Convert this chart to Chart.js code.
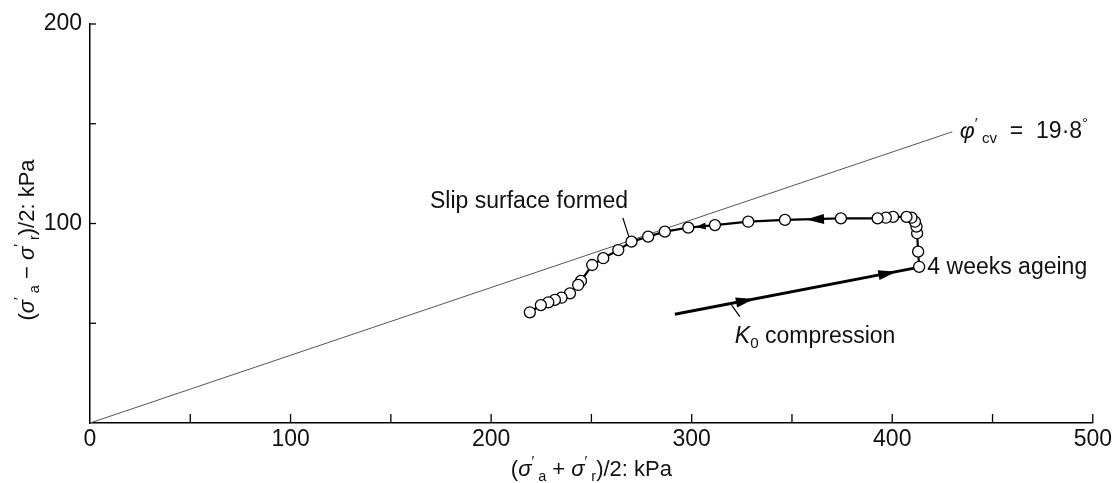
<!DOCTYPE html>
<html lang="en">
<head>
  <meta charset="UTF-8" />
  <title>Stress path - ring shear ageing</title>
  <script src="https://cdn.jsdelivr.net/npm/chart.js"></script>
  <style>
    body { margin: 0; background: #fff; }
    #wrap { width: 1115px; height: 483px; }
  </style>
</head>
<body>
<div id="wrap"><canvas id="pathChart"></canvas></div>
<script>
  // p' = (σ'a + σ'r)/2 and q' = (σ'a − σ'r)/2, both in kPa
  const shearP = [413.4, 412.9, 412.4, 412.1, 411.3, 409.6, 407.1, 400.4, 396.8, 392.7,
                  374.4, 346.5, 328.2, 311.6, 298.3, 286.6, 278.3, 270.0, 263.4, 255.9,
                  250.4, 244.8, 243.4, 239.3, 235.1, 231.8, 228.5, 224.8, 219.3];
  const shearQ = [78.3, 85.9, 95.1, 98.4, 100.9, 102.9, 103.3, 103.3, 102.9, 102.6,
                  102.6, 101.8, 100.9, 99.2, 97.9, 95.9, 93.4, 90.9, 86.7, 82.6,
                  79.2, 71.2, 69.2, 65.0, 62.8, 61.7, 60.5, 59.1, 55.5];

  // K0 compression then 4 weeks ageing
  const koP = [291.6, 413.0];
  const koQ = [54.5, 78.0];

  // critical state line, φ'cv = 19.8°
  const phiP = [0, 430];
  const phiQ = [0, 146];

  // leader lines for the labels
  const slipLeaderP = [265.7, 269.2];
  const slipLeaderQ = [102.8, 91.7];
  const koLeaderP = [319.9, 324.0];
  const koLeaderQ = [59.1, 53.3];

  // arrow heads: tip point and a point behind it
  const arrowTipP = [331.0, 402.0, 357.0, 302.0];
  const arrowTipQ = [62.1, 75.8, 102.0, 98.3];
  const arrowTailP = [291.6, 291.6, 375.0, 312.0];
  const arrowTailQ = [54.5, 54.5, 102.6, 99.2];

  const xTicks = [0, 100, 200, 300, 400, 500];
  const yTicks = [100, 200];

  const FONT = '"Liberation Sans", Arial, Helvetica, sans-serif';

  const toXY = (ps, qs) => ps.map((p, i) => ({ x: p, y: qs[i] }));

  function drawRich(ctx, parts, x, y, size, measureOnly) {
    let cx = x;
    for (const [t, k] of parts) {
      const small = k === 'sub' || k === 'sup';
      const s = small ? size * 0.66 : size;
      ctx.font = (k === 'it' ? 'italic ' : '') + s + 'px ' + FONT;
      const dy = k === 'sub' ? size * 0.22 : k === 'sup' ? -size * 0.45 : 0;
      if (!measureOnly) ctx.fillText(t, cx, y + dy);
      cx += ctx.measureText(t).width;
    }
    return cx - x;
  }

  const xTitle = [['(', ''], ['σ', 'it'], ['′', 'sup'], [' a', 'sub'], [' + ', ''], ['σ', 'it'],
                  ['′', 'sup'], [' r', 'sub'], [')/2: kPa', '']];
  const yTitle = [['(', ''], ['σ', 'it'], ['′', 'sup'], [' a', 'sub'], [' − ', ''], ['σ', 'it'],
                  ['′', 'sup'], [' r', 'sub'], [')/2: kPa', '']];

  const decor = {
    id: 'decor',
    afterDraw(chart) {
      const { ctx, chartArea: a, scales: { x, y } } = chart;
      ctx.save();
      ctx.strokeStyle = '#000';
      ctx.lineWidth = 1.3;
      // inward tick marks
      for (let v = 50; v <= 500; v += 50) {
        const px = x.getPixelForValue(v);
        ctx.beginPath(); ctx.moveTo(px, a.bottom); ctx.lineTo(px, a.bottom - 9); ctx.stroke();
      }
      for (let v = 50; v <= 200; v += 50) {
        const py = y.getPixelForValue(v);
        ctx.beginPath(); ctx.moveTo(a.left, py); ctx.lineTo(a.left + 6, py); ctx.stroke();
      }

      // arrow heads
      ctx.fillStyle = '#000';
      arrowTipP.forEach((p, i) => {
        const tx = x.getPixelForValue(p), ty = y.getPixelForValue(arrowTipQ[i]);
        const bx = x.getPixelForValue(arrowTailP[i]), by = y.getPixelForValue(arrowTailQ[i]);
        const ang = Math.atan2(ty - by, tx - bx);
        const len = i === 3 ? 10 : 18, half = i === 3 ? 3.5 : 5;
        ctx.save();
        ctx.translate(tx, ty); ctx.rotate(ang);
        ctx.beginPath(); ctx.moveTo(0, 0); ctx.lineTo(-len, -half); ctx.lineTo(-len, half);
        ctx.closePath(); ctx.fill();
        ctx.restore();
      });

      // annotations
      ctx.fillStyle = '#111';
      ctx.textBaseline = 'alphabetic';
      ctx.textAlign = 'left';
      const size = 23;
      drawRich(ctx, [['Slip surface formed', '']], x.getPixelForValue(169.5), y.getPixelForValue(107.8), size);
      drawRich(ctx, [['4 weeks ageing', '']], x.getPixelForValue(417.5), y.getPixelForValue(74.7), size);
      drawRich(ctx, [['K', 'it'], ['0', 'sub'], [' compression', '']], x.getPixelForValue(321.5), y.getPixelForValue(40.1), size);
      drawRich(ctx, [['φ', 'it'], ['′', 'sup'], [' cv', 'sub'], ['  =  19·8', ''], ['°', 'sup']],
               x.getPixelForValue(433.7), y.getPixelForValue(142.9), size);

      // axis titles
      const ts = 22;
      const wx = drawRich(ctx, xTitle, 0, 0, ts, true);
      drawRich(ctx, xTitle, (a.left + a.right) / 2 - wx / 2, 476, ts);
      const wy = drawRich(ctx, yTitle, 0, 0, ts, true);
      ctx.translate(34, 240);
      ctx.rotate(-Math.PI / 2);
      drawRich(ctx, yTitle, -wy / 2, 0, ts);
      ctx.restore();
    }
  };

  new Chart(document.getElementById('pathChart'), {
    type: 'scatter',
    data: {
      datasets: [
        {
          label: 'Shearing',
          data: toXY(shearP, shearQ),
          showLine: true,
          borderColor: '#000',
          borderWidth: 2.2,
          pointRadius: 5.5,
          pointBackgroundColor: '#fff',
          pointBorderColor: '#000',
          pointBorderWidth: 1.3
        },
        {
          label: 'K0 compression',
          data: toXY(koP, koQ),
          showLine: true,
          borderColor: '#000',
          borderWidth: 3,
          pointRadius: 0
        },
        {
          label: 'Slip leader',
          data: toXY(slipLeaderP, slipLeaderQ),
          showLine: true,
          borderColor: '#000',
          borderWidth: 1.2,
          pointRadius: 0
        },
        {
          label: 'K0 leader',
          data: toXY(koLeaderP, koLeaderQ),
          showLine: true,
          borderColor: '#000',
          borderWidth: 1.2,
          pointRadius: 0
        },
        {
          label: 'phi cv',
          data: toXY(phiP, phiQ),
          showLine: true,
          borderColor: '#555',
          borderWidth: 1,
          pointRadius: 0
        }
      ]
    },
    options: {
      responsive: true,
      maintainAspectRatio: false,
      animation: false,
      layout: { padding: { top: 24, right: 22, left: 0, bottom: 0 } },
      plugins: {
        legend: { display: false },
        tooltip: { enabled: false }
      },
      scales: {
        x: {
          type: 'linear',
          min: 0, max: 500,
          afterFit: s => { s.height = 60; },
          grid: { display: false, drawTicks: false },
          border: { display: true, color: '#000', width: 1.5 },
          ticks: {
            stepSize: 100,
            autoSkip: false,
            maxRotation: 0,
            padding: 3,
            color: '#111',
            font: { family: FONT, size: 23 },
            callback: v => xTicks.includes(v) ? String(v) : ''
          }
        },
        y: {
          type: 'linear',
          min: 0, max: 200,
          afterFit: s => { s.width = 90; },
          grid: { display: false, drawTicks: false },
          border: { display: true, color: '#000', width: 1.5 },
          ticks: {
            stepSize: 100,
            autoSkip: false,
            padding: 8,
            color: '#111',
            font: { family: FONT, size: 23 },
            callback: v => yTicks.includes(v) ? String(v) : ''
          }
        }
      }
    },
    plugins: [decor]
  });
</script>
</body>
</html>
